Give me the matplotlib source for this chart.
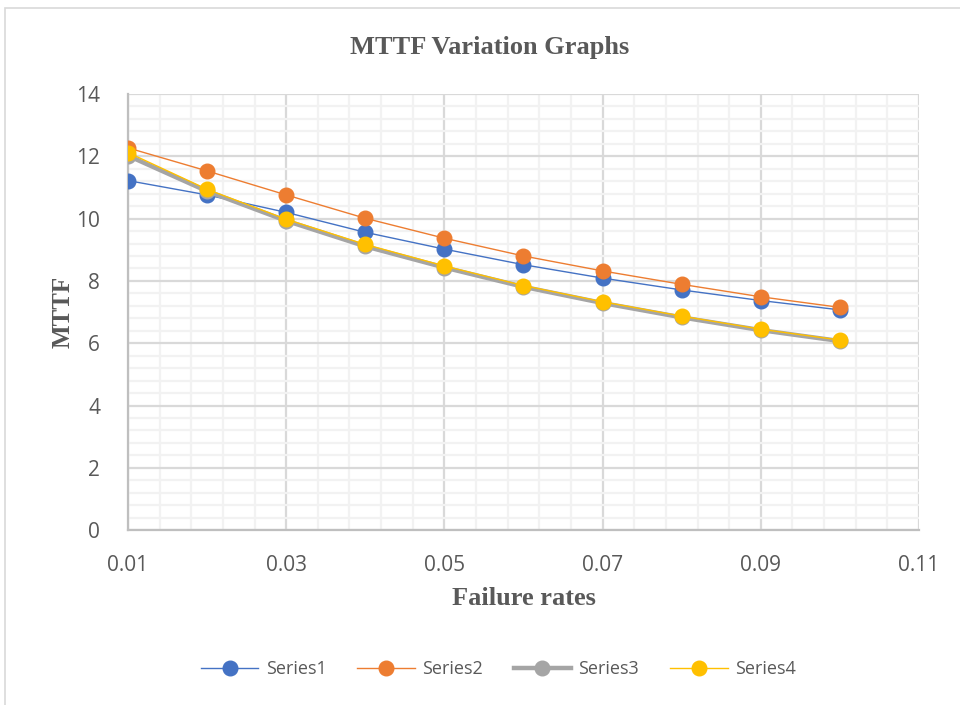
import matplotlib
matplotlib.use("Agg")
import matplotlib.pyplot as plt
from matplotlib.patches import Rectangle
from matplotlib.ticker import FixedLocator, MultipleLocator, FormatStrFormatter

plt.rcParams.update({
    "font.family": ["Open Sans", "DejaVu Sans"],
})

failure_rates = [0.01, 0.02, 0.03, 0.04, 0.05, 0.06, 0.07, 0.08, 0.09, 0.10]
series1 = [11.22, 10.76, 10.20, 9.56, 9.02, 8.52, 8.09, 7.71, 7.37, 7.07]
series2 = [12.27, 11.53, 10.76, 10.01, 9.37, 8.80, 8.32, 7.89, 7.49, 7.15]
series3 = [12.02, 10.88, 9.93, 9.11, 8.43, 7.81, 7.29, 6.83, 6.42, 6.07]
series4 = [12.12, 10.94, 9.98, 9.17, 8.48, 7.85, 7.33, 6.87, 6.45, 6.10]

x_ticks = [0.01, 0.03, 0.05, 0.07, 0.09, 0.11]
names = ["Series1", "Series2", "Series3", "Series4"]
colors = ["#4472C4", "#ED7D31", "#A5A5A5", "#FFC000"]
widths = [1.0, 1.0, 3.2, 1.0]

TEXT = "#595959"

fig = plt.figure(figsize=(9.6, 7.05), dpi=100)
fig.patch.set_facecolor("white")
fig.patches.append(Rectangle((0.005, -0.01), 1.2, 0.998, transform=fig.transFigure,
                             fill=False, edgecolor="#D9D9D9", linewidth=1.2))

ax = fig.add_axes([0.1333, 0.248, 0.824, 0.6187])

for vals, name, c, lw in zip([series1, series2, series3, series4], names, colors, widths):
    ax.plot(failure_rates, vals, color=c, linewidth=lw, marker="o", markersize=10.5,
            markerfacecolor=c, markeredgecolor=c, label=name, zorder=3)

ax.set_xlim(0.01, 0.11)
ax.set_ylim(0, 14)
ax.xaxis.set_major_locator(FixedLocator(x_ticks))
ax.xaxis.set_minor_locator(FixedLocator([0.01 + 0.004 * i for i in range(26)]))
ax.yaxis.set_major_locator(MultipleLocator(2))
ax.yaxis.set_minor_locator(MultipleLocator(0.4))
ax.xaxis.set_major_formatter(FormatStrFormatter("%.2f"))
ax.grid(which="major", color="#D9D9D9", linewidth=1.6, zorder=0)
ax.grid(which="minor", color="#F2F2F2", linewidth=1.6, zorder=0)
ax.set_axisbelow(True)
ax.tick_params(which="both", length=0, colors=TEXT, labelsize=15)
ax.tick_params(axis="x", pad=18)
ax.tick_params(axis="y", pad=20)
for side in ["top", "right"]:
    ax.spines[side].set_visible(False)
for side in ["left", "bottom"]:
    ax.spines[side].set_color("#BFBFBF")
    ax.spines[side].set_linewidth(1.6)

serif = ["Liberation Serif", "DejaVu Serif"]
fig.text(0.51, 0.932, "MTTF Variation Graphs", ha="center", va="center", fontsize=19,
         fontweight="bold", color=TEXT, family=serif)
ax.set_xlabel("Failure rates", fontsize=19, fontweight="bold", color=TEXT, family=serif, labelpad=8)
ax.set_ylabel("MTTF", fontsize=18, fontweight="bold", color=TEXT, family=serif, labelpad=1)

fig.legend(loc="center", bbox_to_anchor=(0.519, 0.051), ncol=4, frameon=False,
           fontsize=13, labelcolor=TEXT, handlelength=3.2, columnspacing=1.7, handletextpad=0.4)

fig.savefig("out.png", dpi=100)
